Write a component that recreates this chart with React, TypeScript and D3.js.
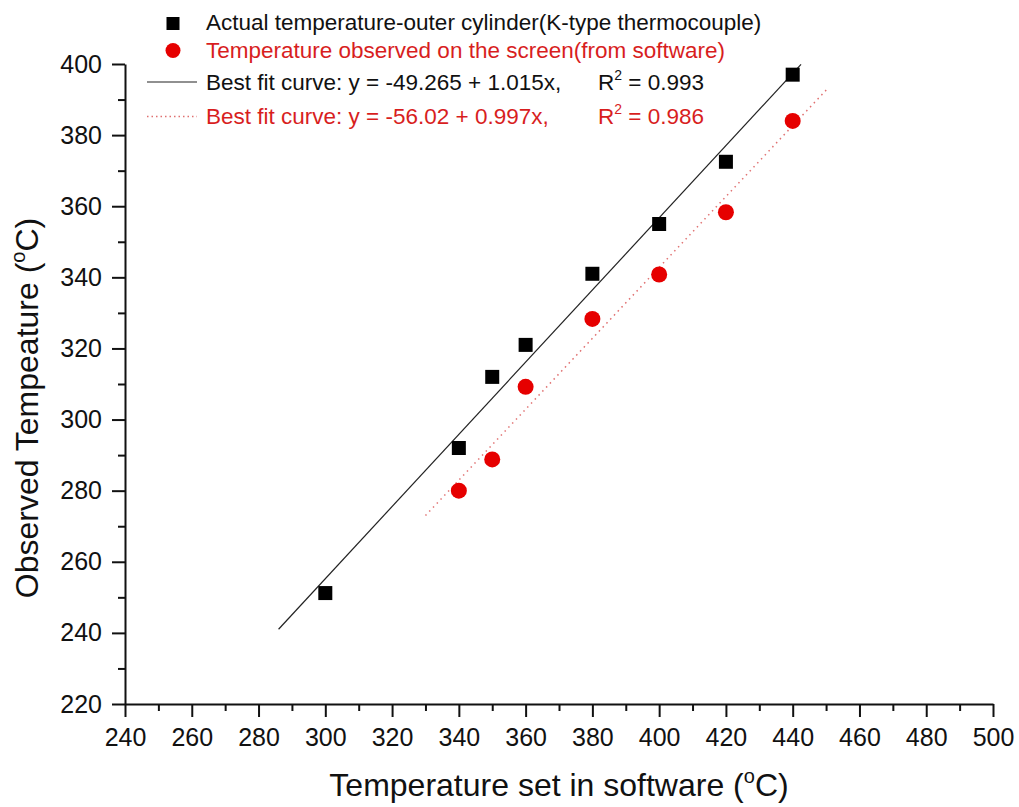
import React, { useEffect, useRef } from 'react';
import * as d3 from 'd3';

// data
const setTemps = [300, 340, 350, 360, 380, 400, 420, 440];
const actualTemps = [251.2, 292, 312, 321, 341, 355, 372.5, 397];
const screenSet = [340, 350, 360, 380, 400, 420, 440];
const screenTemps = [280, 288.8, 309.2, 328.3, 340.8, 358.3, 384];
const fitBlack = [-49.265, 1.015];
const fitBlackRange = [286, 442.5];
const fitRed = [-56.02, 0.997];
const fitRedRange = [330, 450.5];
const xTicks = [240, 260, 280, 300, 320, 340, 360, 380, 400, 420, 440, 460, 480, 500];
const yTicks = [220, 240, 260, 280, 300, 320, 340, 360, 380, 400];
const legendLabels = [
  'Actual temperature-outer cylinder(K-type thermocouple)',
  'Temperature observed on the screen(from software)',
  'Best fit curve: y = -49.265 + 1.015x,',
  'Best fit curve: y = -56.02 + 0.997x,',
];
const rSquared = ['0.993', '0.986'];

const RED = '#e60000';
const FONT = '"Liberation Sans", Arial, sans-serif';

export default function App() {
  const ref = useRef<SVGSVGElement>(null);

  useEffect(() => {
    draw();
  }, []);

  function draw() {
    const svg = d3.select(ref.current);
    svg.selectAll('*').remove();
    const margin = { top: 64, right: 26, bottom: 103, left: 125 };
    const width = 1019;
    const height = 807;
    const innerWidth = width - margin.left - margin.right;
    const innerHeight = height - margin.top - margin.bottom;
    const g = svg.append('g').attr('transform', `translate(${margin.left},${margin.top})`);

    const x = d3.scaleLinear().domain([240, 500]).range([0, innerWidth]);
    const y = d3.scaleLinear().domain([220, 400]).range([innerHeight, 0]);

    // minor ticks
    const xMinor = d3.range(250, 500, 20);
    const yMinor = d3.range(230, 400, 20);
    g.append('g')
      .attr('transform', `translate(0,${innerHeight})`)
      .call(d3.axisBottom(x).tickValues(xMinor).tickSize(7).tickFormat(() => ''))
      .call((a) => a.select('.domain').remove());
    g.append('g')
      .call(d3.axisLeft(y).tickValues(yMinor).tickSize(7).tickFormat(() => ''))
      .call((a) => a.select('.domain').remove());

    // major axes
    const xAxis = g
      .append('g')
      .attr('transform', `translate(0,${innerHeight})`)
      .call(d3.axisBottom(x).tickValues(xTicks).tickSize(13).tickSizeOuter(0).tickPadding(11).tickFormat(d3.format('d')));
    const yAxis = g
      .append('g')
      .call(d3.axisLeft(y).tickValues(yTicks).tickSize(13).tickSizeOuter(0).tickPadding(10).tickFormat(d3.format('d')));
    [xAxis, yAxis].forEach((a) => {
      a.selectAll('text').attr('font-size', 25).attr('font-family', FONT).attr('fill', '#111');
    });
    g.selectAll('.tick line').attr('stroke', '#111').attr('stroke-width', 2);
    g.selectAll('.domain').attr('stroke', '#111').attr('stroke-width', 2);

    // fit lines, drawn from the fitted equations over their plotted range
    g.append('path')
      .datum(fitBlackRange)
      .attr('fill', 'none')
      .attr('stroke', '#222')
      .attr('stroke-width', 1.2)
      .attr('d', d3.line<number>().x((d) => x(d)).y((d) => y(fitBlack[0] + fitBlack[1] * d)));
    g.append('path')
      .datum(fitRedRange)
      .attr('fill', 'none')
      .attr('stroke', '#e07070')
      .attr('stroke-width', 1.5)
      .attr('stroke-dasharray', '1.5,4')
      .attr('d', d3.line<number>().x((d) => x(d)).y((d) => y(fitRed[0] + fitRed[1] * d)));

    // markers
    const sq = 14;
    g.selectAll('.sq')
      .data(setTemps)
      .enter()
      .append('rect')
      .attr('x', (d) => x(d) - sq / 2)
      .attr('y', (d, i) => y(actualTemps[i]) - sq / 2)
      .attr('width', sq)
      .attr('height', sq)
      .attr('fill', '#000');
    g.selectAll('.dot')
      .data(screenSet)
      .enter()
      .append('circle')
      .attr('cx', (d) => x(d))
      .attr('cy', (d, i) => y(screenTemps[i]))
      .attr('r', 8)
      .attr('fill', RED);

    // legend
    const lg = svg.append('g').attr('font-family', FONT).attr('font-size', 22.5);
    const rows = [29.5, 57.5, 90, 123.5];
    const colors = ['#111', '#d81e1e', '#111', '#d81e1e'];
    lg.append('rect').attr('x', 173 - 6.5).attr('y', 23.5 - 6.5).attr('width', 13).attr('height', 13).attr('fill', '#000');
    lg.append('circle').attr('cx', 173).attr('cy', 50.5).attr('r', 7.5).attr('fill', RED);
    lg.append('line').attr('x1', 147).attr('x2', 197).attr('y1', 82).attr('y2', 82).attr('stroke', '#222').attr('stroke-width', 1.2);
    lg.append('line')
      .attr('x1', 147)
      .attr('x2', 197)
      .attr('y1', 116.5)
      .attr('y2', 116.5)
      .attr('stroke', '#e07070')
      .attr('stroke-width', 1.5)
      .attr('stroke-dasharray', '1.5,3');
    legendLabels.forEach((t, i) => {
      lg.append('text').attr('x', 206).attr('y', rows[i]).attr('fill', colors[i]).text(t);
    });
    rSquared.forEach((r, i) => {
      const t = lg.append('text').attr('x', 598).attr('y', rows[i + 2]).attr('fill', colors[i + 2]);
      t.append('tspan').text('R');
      t.append('tspan').attr('font-size', 14).attr('dy', -10).text('2');
      t.append('tspan').attr('dy', 10).text(` = ${r}`);
    });

    // axis titles
    const xt = svg
      .append('text')
      .attr('x', margin.left + innerWidth / 2)
      .attr('y', 796)
      .attr('text-anchor', 'middle')
      .attr('font-family', FONT)
      .attr('font-size', 32)
      .attr('fill', '#111');
    xt.append('tspan').text('Temperature set in software (');
    xt.append('tspan').attr('font-size', 20).attr('dy', -13).text('o');
    xt.append('tspan').attr('dy', 13).text('C)');

    const yt = svg
      .append('text')
      .attr('transform', 'translate(38,408) rotate(-90)')
      .attr('text-anchor', 'middle')
      .attr('font-family', FONT)
      .attr('font-size', 32)
      .attr('fill', '#111');
    yt.append('tspan').text('Observed Tempeature (');
    yt.append('tspan').attr('font-size', 20).attr('dy', -13).text('o');
    yt.append('tspan').attr('dy', 13).text('C)');
  }

  return (
    <svg
      ref={ref}
      width={1019}
      height={807}
      style={{ position: 'absolute', left: 0, top: 0, background: '#fff' }}
    ></svg>
  );
}
